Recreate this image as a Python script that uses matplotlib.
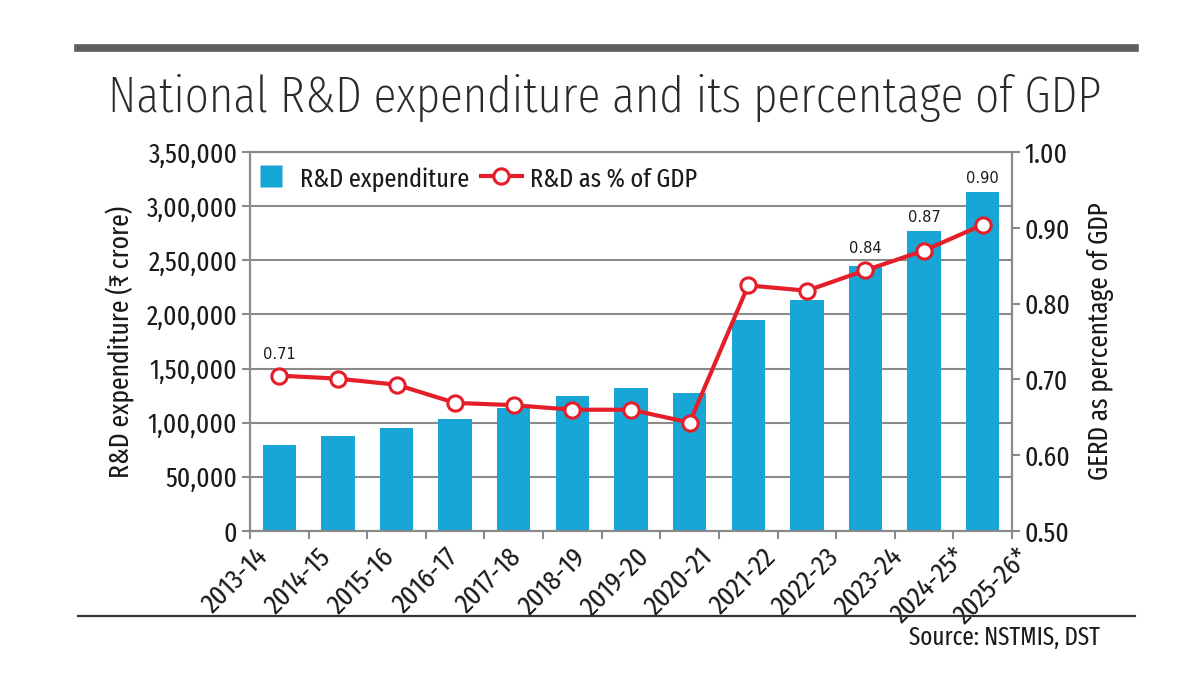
import matplotlib
matplotlib.use('Agg')
import matplotlib.pyplot as plt
from matplotlib.lines import Line2D
from matplotlib.transforms import offset_copy

# ---------------- data ----------------
years = ['2013-14', '2014-15', '2015-16', '2016-17', '2017-18', '2018-19',
         '2019-20', '2020-21', '2021-22', '2022-23', '2023-24', '2024-25*', '2025-26*']
expenditure = [79300, 87500, 95400, 103000, 113700, 124400,
               132300, 127100, 194900, 213500, 244700, 276600, 313400]
gdp_share = [0.705, 0.701, 0.693, 0.669, 0.666, 0.660,
             0.660, 0.643, 0.824, 0.817, 0.844, 0.870, 0.904]
label_idx = [0, 10, 11, 12]
label_txt = ['0.71', '0.84', '0.87', '0.90']

left_ticks = [0, 50000, 100000, 150000, 200000, 250000, 300000, 350000]
left_tick_labels = ['0', '50,000', '1,00,000', '1,50,000', '2,00,000',
                    '2,50,000', '3,00,000', '3,50,000']
right_ticks = [0.50, 0.60, 0.70, 0.80, 0.90, 1.00]

# ---------------- style ----------------
NARROW = ['Fira Sans Extra Condensed', 'DejaVu Sans']
BAR_C = '#17a6d6'
LINE_C = '#e41f2a'
GRID_C = '#8a8a8a'
TXT_C = '#1a1a1a'

fig = plt.figure(figsize=(12, 6.75), dpi=100)
fig.patch.set_facecolor('white')

ax = fig.add_axes([250/1200, 1-531/675, (1012-250)/1200, (531-152)/675])
ax2 = ax.twinx()

n = len(years)
x = list(range(n))
ax.bar(x, expenditure, width=0.57, color=BAR_C, zorder=2)
ax.set_xlim(-0.5, n-0.5)
ax.set_ylim(0, 350000)
ax.set_yticks(left_ticks)
ax.set_yticklabels(left_tick_labels, family=NARROW, fontsize=20, color=TXT_C)
ax.yaxis.grid(True, color=GRID_C, lw=1.5, zorder=0)
ax.set_axisbelow(True)

ax2.plot(x, gdp_share, color=LINE_C, lw=3, marker='o', ms=11,
         mfc='white', mec=LINE_C, mew=2.2, zorder=5)
ax2.set_ylim(0.5, 1.0)
ax2.set_yticks(right_ticks)
ax2.set_yticklabels(['%.2f' % v for v in right_ticks], family=NARROW,
                    fontsize=20, color=TXT_C)

for a in (ax, ax2):
    for s in a.spines.values():
        s.set_color(GRID_C)
        s.set_linewidth(1.5)
    a.tick_params(axis='y', colors=GRID_C, length=6, width=1.5, labelcolor=TXT_C, pad=3)

# x ticks at category boundaries
ax.set_xticks([i - 0.5 for i in range(n + 1)])
ax.set_xticklabels([])
ax.tick_params(axis='x', colors=GRID_C, length=6, width=1.5)

# x labels, rotated
tr = ax.get_xaxis_transform()
tr_off = offset_copy(tr, fig=fig, x=4, y=-12, units='dots')
for i, lab in enumerate(years):
    xpos = -0.5 + i * n / (n - 1)
    ax.text(xpos, 0, lab, transform=tr_off, rotation=45, rotation_mode='anchor',
            ha='right', va='top', family=NARROW, fontsize=20.5, color=TXT_C)

ax.set_ylabel('R&D expenditure (₹ crore)', family=NARROW, fontsize=20,
              color=TXT_C, labelpad=8)
ax2.set_ylabel('GERD as percentage of GDP', family=NARROW, fontsize=19.5,
               color=TXT_C, labelpad=12)

# data labels
fig.canvas.draw()
for i, t in zip(label_idx, label_txt):
    bar_top = ax.transData.transform((i, expenditure[i]))[1]
    mk_top = ax2.transData.transform((i, gdp_share[i]))[1] + 8
    y_disp = max(bar_top, mk_top) + 6
    xd = ax.transData.transform((i, 0))[0]
    xf, yf = fig.transFigure.inverted().transform((xd, y_disp))
    fig.text(xf, yf, t, ha='center', va='bottom', family='DejaVu Sans',
             fontsize=10.5, color=TXT_C)

# legend
handles = [Line2D([0], [0], color='none', marker='s', ms=15.5,
                  mfc=BAR_C, mec='none'),
           Line2D([0], [0], color=LINE_C, lw=3, marker='o', ms=11,
                  mfc='white', mec=LINE_C, mew=2.2)]
leg = ax.legend(handles, ['R&D expenditure', 'R&D as % of GDP'], ncol=2,
                loc='upper left', bbox_to_anchor=(-0.03, 1.025), frameon=False,
                prop={'family': NARROW, 'size': 19}, handlelength=1.55,
                handleheight=0.9, handletextpad=0.3, columnspacing=0.45)
for t in leg.get_texts():
    t.set_color(TXT_C)

# header rule and title
fig.add_artist(Line2D([78/1200, 1135/1200], [1-48/675, 1-48/675],
                      color='#5f5f5f', lw=5.5, transform=fig.transFigure))
fig.text(108/1200, 1-112/675, 'National R&D expenditure and its percentage of GDP',
         ha='left', va='baseline', family=['Fira Sans Extra Condensed', 'DejaVu Sans'],
         weight=275, fontsize=37, color='#2a2a2a')

# footer rule and source
fig.add_artist(Line2D([78/1200, 1135/1200], [1-616/675, 1-616/675],
                      color='#333333', lw=1.6, transform=fig.transFigure))
fig.text(1100/1200, 1-645/675, 'Source: NSTMIS, DST', ha='right', va='baseline',
         family=NARROW, fontsize=18, color=TXT_C)

fig.savefig('out.png', dpi=100, facecolor='white')
